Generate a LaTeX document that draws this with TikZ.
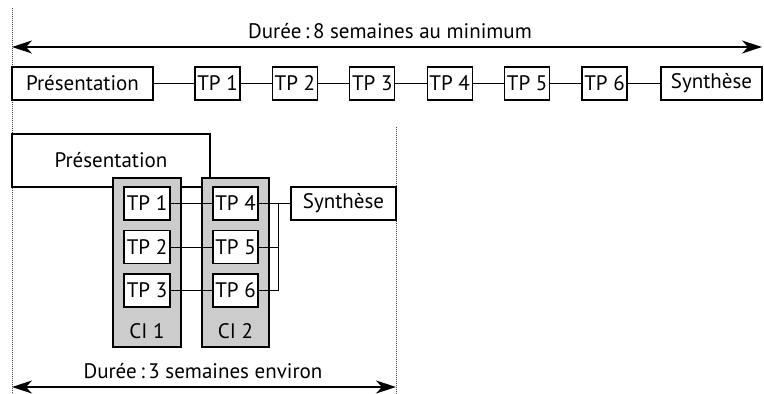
\documentclass[tikz,border=0pt]{standalone}
\usepackage{fontspec}
\setmainfont{PT Sans}
\usetikzlibrary{arrows.meta}
\begin{document}
\begin{tikzpicture}[x=1pt,y=-1pt,
  txt/.style={font=\fontsize{21}{23}\selectfont,inner sep=0pt},
  box/.style={txt,draw,line width=1.1pt,minimum height=33pt},
  tpbox/.style={box,minimum width=45pt},
  cibox/.style={draw,line width=1.1pt,fill=gray!40,minimum width=68pt,minimum height=169pt,inner sep=0pt},
  link/.style={line width=0.9pt},
  span/.style={line width=1.3pt,{Stealth[length=20pt,width=13pt,inset=6pt]}-{Stealth[length=20pt,width=13pt,inset=6pt]}},
  guide/.style={line width=1pt,densely dotted,gray!50!black}
]
\useasboundingbox (0,0) rectangle (764,394);
\fill[white] (0,0) rectangle (764,394);

% guide lines
\coordinate (dl1) at (12,8);
\coordinate (dl2) at (12,394);
\coordinate (dr1) at (396,127);
\coordinate (dr2) at (396,394);
\draw[guide] (dl1) -- (dl2);
\draw[guide] (dr1) -- (dr2);

% top row
\coordinate (aL) at (12,47);
\coordinate (aR) at (762,47);
\draw[span] (aL) -- (aR);
\node[txt] (d8) at (390,31) {Durée\,:\,8 semaines au minimum};

\node[box,minimum width=141pt] (ptop) at (82.5,83.5) {Présentation};
\node[tpbox] (t1) at (217.5,83.5) {TP 1};
\node[tpbox] (t2) at (294.9,83.5) {TP 2};
\node[tpbox] (t3) at (372.3,83.5) {TP 3};
\node[tpbox] (t4) at (449.7,83.5) {TP 4};
\node[tpbox] (t5) at (527.1,83.5) {TP 5};
\node[tpbox] (t6) at (604.5,83.5) {TP 6};
\node[box,minimum width=101pt] (stop) at (711.5,83.5) {Synthèse};
\draw[link] (ptop) -- (t1) -- (t2) -- (t3) -- (t4) -- (t5) -- (t6) -- (stop);

% bottom part
\node[box,minimum width=198pt,minimum height=53pt] (pbot) at (111,160.5) {Présentation};
\node[cibox] (ci1) at (147,262.5) {};
\node[cibox,minimum width=67pt] (ci2) at (235.5,262.5) {};
\node[txt] (ci1l) at (147,331) {CI 1};
\node[txt] (ci2l) at (235.5,331) {CI 2};

\node[tpbox,fill=white,minimum width=46pt] (b1) at (147,203.5) {TP 1};
\node[tpbox,fill=white,minimum width=46pt] (b2) at (147,247) {TP 2};
\node[tpbox,fill=white,minimum width=46pt] (b3) at (147,290.5) {TP 3};
\node[tpbox,fill=white] (b4) at (235.5,203.5) {TP 4};
\node[tpbox,fill=white] (b5) at (235.5,247) {TP 5};
\node[tpbox,fill=white] (b6) at (235.5,290.5) {TP 6};
\node[box,minimum width=105pt] (sbot) at (343.5,203.5) {Synthèse};

\draw[link] (b1) -- (b4);
\draw[link] (b2) -- (b5);
\draw[link] (b3) -- (b6);
\coordinate (j4) at (278,203.5);
\coordinate (j5) at (278,247);
\coordinate (j6) at (278,290.5);
\draw[link] (b4.east) -- (sbot.west);
\draw[link] (b5.east) -- (j5);
\draw[link] (b6.east) -- (j6) -- (j4);

\coordinate (bL) at (12,387);
\coordinate (bR) at (396,387);
\draw[span] (bL) -- (bR);
\node[txt] (d3) at (203,371) {Durée\,:\,3 semaines environ};
\end{tikzpicture}
\end{document}
